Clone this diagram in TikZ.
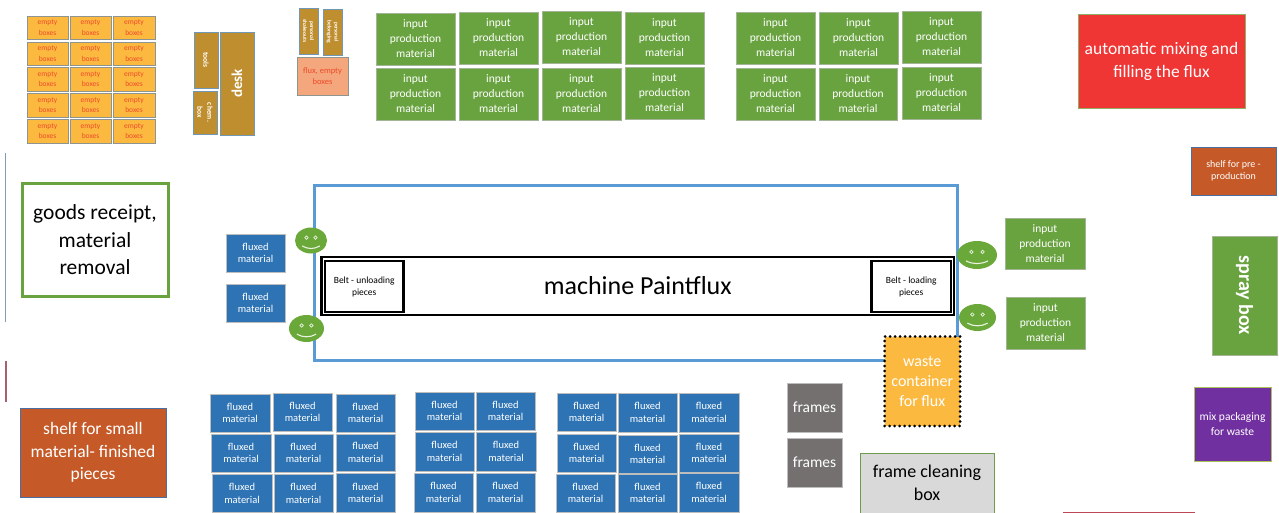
\documentclass[tikz,border=0pt]{standalone}
\usepackage{fontspec}
\setmainfont{Carlito}
\usetikzlibrary{shapes.geometric}
\definecolor{gFill}{HTML}{69A340}
\definecolor{gLine}{HTML}{A3B596}
\definecolor{bFill}{HTML}{2E74B5}
\definecolor{bLine}{HTML}{BDBDBD}
\definecolor{oFill}{HTML}{FCB940}
\definecolor{oLine}{HTML}{8E9490}
\definecolor{oText}{HTML}{EE4B2B}
\definecolor{tan1}{HTML}{BE8E2F}
\definecolor{tanLine}{HTML}{6F97B8}
\definecolor{salmon}{HTML}{F4A77C}
\definecolor{redF}{HTML}{EF3634}
\definecolor{redL}{HTML}{8FAE66}
\definecolor{rust}{HTML}{C55A28}
\definecolor{rustL}{HTML}{4A6FA5}
\definecolor{purp}{HTML}{7030A0}
\definecolor{purpL}{HTML}{A9C25A}
\definecolor{greyF}{HTML}{757070}
\definecolor{lgrey}{HTML}{D9D9D9}
\definecolor{frameB}{HTML}{5B9BD5}
\definecolor{smileG}{HTML}{6AA83A}
\definecolor{ruleA}{HTML}{7F9DB8}
\definecolor{ruleB}{HTML}{A8606E}
\newcommand{\fs}[2]{\fontsize{#1}{#2}\selectfont}
\newcommand{\bx}[7]{%
  \pgfmathsetmacro\myw{#4-#2}\pgfmathsetmacro\myh{#5-#3}%
  \pgfmathsetmacro\mycx{(#4+#2)/2}\pgfmathsetmacro\mycy{(#5+#3)/2}%
  \node[boxbase,#6,minimum width=\myw pt,minimum height=\myh pt] (#1) at (\mycx,\mycy) {#7};}
\newcommand{\rbx}[8]{%
  \pgfmathsetmacro\myw{#4-#2}\pgfmathsetmacro\myh{#5-#3}%
  \pgfmathsetmacro\mycx{(#4+#2)/2}\pgfmathsetmacro\mycy{(#5+#3)/2}%
  \node[boxbase,#6,rotate=#7,minimum width=\myh pt,minimum height=\myw pt] (#1) at (\mycx,\mycy) {#8};}
\newcommand{\smiley}[5]{%
  \node[smileface,minimum width=#4*2pt,minimum height=#5*2pt] (#1) at (#2,#3) {};
  \begin{scope}[shift={(#2,#3)}]
    \draw[smilepart] (-#4*0.28,-#5*0.22) circle (1.7);
    \draw[smilepart] (#4*0.28,-#5*0.22) circle (1.7);
    \draw[smilepart,line width=1.1pt] (-#4*0.55,#5*0.42) .. controls (-#4*0.2,#5*0.68) and (#4*0.2,#5*0.68) .. (#4*0.55,#5*0.42);
  \end{scope}}
\tikzset{
  boxbase/.style={draw,rectangle,inner sep=0pt,outer sep=0pt,align=center,line width=0.9pt},
  emptybox/.style={fill=oFill,draw=oLine,text=oText,font=\fs{7.5}{10.5}},
  toolbox/.style={fill=tan1,draw=tanLine,text=white},
  inbox/.style={fill=gFill,draw=gLine,text=white,font=\fs{11.5}{15}},
  fluxbox/.style={fill=bFill,draw=bLine,text=white,font=\fs{10.5}{12.3}},
  rustbox/.style={fill=rust,draw=rustL,text=white},
  greybox/.style={fill=greyF,draw=bLine,text=white,font=\fs{15.5}{20}},
  smileface/.style={ellipse,fill=smileG,draw=none,inner sep=0pt,outer sep=0pt},
  smilepart/.style={draw=white!85!smileG,line width=0.7pt},
}
\begin{document}
\begin{tikzpicture}[x=1pt,y=-1pt]
\useasboundingbox[fill=white] (0,0) rectangle (1279,513);
% left rules
\fill[fill=ruleA] (4.6,153) rectangle (6.2,322);
\fill[fill=ruleB] (4.6,361) rectangle (6.6,402);
% empty boxes
\foreach \c/\xa/\xb in {1/27/68,2/70/111,3/113/155}
  \foreach \r/\ya/\yb in {1/16/39,2/42/65,3/67/91,4/93/117,5/119/143}
    {\bx{e\r\c}{\xa}{\ya}{\xb}{\yb}{emptybox}{empty\\boxes}}
% desk group
\rbx{tools}{194}{32}{218}{88}{toolbox,font=\bfseries\fs{7.5}{10}}{-90}{tools}
\rbx{chem}{193}{91}{217}{134}{toolbox,font=\bfseries\fs{7.5}{10}}{-90}{chem.\\box}
\rbx{desk}{220}{32}{254}{135}{toolbox,font=\bfseries\fs{15}{18}}{90}{desk}
\rbx{sa}{299}{8}{318}{54}{toolbox,font=\bfseries\fs{5.5}{7}}{-90}{personal\\shakeouts}
\rbx{sb}{323}{9}{342}{55}{toolbox,font=\bfseries\fs{5.5}{7}}{-90}{personal\\belonging}
\bx{fluxempty}{297}{57}{348}{95}{fill=salmon,draw=oLine,text=oText,font=\fs{8.5}{11.5}}{flux, empty\\boxes}
% input material grid, left block
\bx{ia1}{376}{13}{455}{65}{inbox}{input\\production\\material}
\bx{ia2}{459}{12}{538}{64}{inbox}{input\\production\\material}
\bx{ia3}{542}{11}{621}{63}{inbox}{input\\production\\material}
\bx{ia4}{625}{12}{704}{64}{inbox}{input\\production\\material}
\bx{ib1}{376}{68}{455}{120}{inbox}{input\\production\\material}
\bx{ib2}{459}{68}{538}{120}{inbox}{input\\production\\material}
\bx{ib3}{542}{68}{621}{120}{inbox}{input\\production\\material}
\bx{ib4}{625}{67}{704}{119}{inbox}{input\\production\\material}
% input material grid, right block
\bx{ic1}{736}{12}{815}{64}{inbox}{input\\production\\material}
\bx{ic2}{819}{12}{898}{64}{inbox}{input\\production\\material}
\bx{ic3}{902}{11}{981}{63}{inbox}{input\\production\\material}
\bx{id1}{736}{68}{815}{120}{inbox}{input\\production\\material}
\bx{id2}{819}{68}{897}{120}{inbox}{input\\production\\material}
\bx{id3}{902}{67}{981}{119}{inbox}{input\\production\\material}
% top right
\bx{mix}{1078}{14}{1245}{108}{fill=redF,draw=redL,text=white,font=\fs{17.5}{23}}{automatic mixing and\\filling the flux}
\bx{pre}{1191}{147}{1276}{195}{rustbox,font=\fs{10}{12}}{shelf for pre -\\production}
\rbx{spray}{1212}{236}{1277}{355}{fill=gFill,draw=gLine,text=white,font=\bfseries\fs{20}{24}}{-90}{spray box}
\bx{waste2}{1194}{387}{1271}{461}{fill=purp,draw=purpL,text=white,font=\fs{11.5}{15}}{mix packaging\\for waste}
\bx{strip}{1063}{512}{1194}{513.5}{fill=redF,draw=redF!70!rustL}{}
% left
\bx{goods}{22}{184}{168}{296}{fill=white,draw=gFill,line width=3pt,text=black,font=\fs{21.5}{27.5}}{goods receipt,\\material\\removal}
\bx{shelf}{20}{408}{166}{497}{rustbox,font=\fs{17.5}{22.5}}{shelf for small\\material- finished\\pieces}
% machine area
\bx{frame}{314.5}{186}{957}{360}{fill=white,draw=frameB,line width=3pt}{}
\bx{machine}{321.5}{257}{954}{315}{fill=white,draw=black,line width=2.5pt,text=black,font=\fs{26}{28}}{machine Paintflux}
\bx{beltu}{325}{261}{403.5}{312}{fill=white,draw=black,line width=2.5pt,text=black,font=\fs{9.5}{12}}{Belt - unloading\\pieces}
\bx{beltl}{871.5}{261}{951}{312}{fill=white,draw=black,line width=2.5pt,text=black,font=\fs{9.5}{12}}{Belt - loading\\pieces}
\smiley{s1}{311}{240.5}{16}{13}
\smiley{s2}{306.5}{328.5}{17.5}{13.5}
\smiley{s3}{977}{255}{20}{14}
\smiley{s4}{977.5}{317.5}{18.5}{13.5}
\bx{fl1}{226}{234}{285}{272}{fluxbox}{fluxed\\material}
\bx{fl2}{226}{284}{285}{322}{fluxbox}{fluxed\\material}
\bx{in1}{1005}{218}{1085}{269}{inbox}{input\\production\\material}
\bx{in2}{1006}{297}{1085}{349}{inbox}{input\\production\\material}
\bx{waste}{884.5}{336.5}{960}{426}{fill=oFill,draw=black,line width=3pt,line cap=round,dash pattern=on 0pt off 5pt,text=white,font=\fs{16}{20}}{waste\\container\\for flux}
% fluxed grid, left block
\bx{fa1}{210}{394}{270}{432}{fluxbox}{fluxed\\material}
\bx{fa2}{273}{393}{332}{431}{fluxbox}{fluxed\\material}
\bx{fa3}{336}{394}{395}{432}{fluxbox}{fluxed\\material}
\bx{fb1}{211}{434}{271}{472}{fluxbox}{fluxed\\material}
\bx{fb2}{274}{434}{333}{472}{fluxbox}{fluxed\\material}
\bx{fb3}{336}{434}{395}{471}{fluxbox}{fluxed\\material}
\bx{fc1}{212}{474}{272}{512.5}{fluxbox}{fluxed\\material}
\bx{fc2}{274}{474}{333}{512.5}{fluxbox}{fluxed\\material}
\bx{fc3}{336}{473}{395}{512.5}{fluxbox}{fluxed\\material}
% fluxed grid, middle block
\bx{ga1}{415}{392}{474}{430}{fluxbox}{fluxed\\material}
\bx{ga2}{476}{392}{535}{430}{fluxbox}{fluxed\\material}
\bx{gb1}{415}{432}{474}{471}{fluxbox}{fluxed\\material}
\bx{gb2}{476}{432}{536}{471}{fluxbox}{fluxed\\material}
\bx{gc1}{414}{473}{473}{512}{fluxbox}{fluxed\\material}
\bx{gc2}{476}{473}{535}{512}{fluxbox}{fluxed\\material}
% fluxed grid, right block
\bx{ha1}{557}{393}{616}{431}{fluxbox}{fluxed\\material}
\bx{ha2}{618}{393}{677}{432}{fluxbox}{fluxed\\material}
\bx{ha3}{679}{393}{739}{432}{fluxbox}{fluxed\\material}
\bx{hb1}{557}{434}{616}{472}{fluxbox}{fluxed\\material}
\bx{hb2}{618}{435}{677}{473}{fluxbox}{fluxed\\material}
\bx{hb3}{679}{434}{739}{472}{fluxbox}{fluxed\\material}
\bx{hc1}{556}{474}{615}{512}{fluxbox}{fluxed\\material}
\bx{hc2}{618}{474}{677}{512}{fluxbox}{fluxed\\material}
\bx{hc3}{679}{473}{739}{512}{fluxbox}{fluxed\\material}
% frames
\bx{fr1}{787}{383}{842}{432}{greybox}{frames}
\bx{fr2}{787}{438}{842}{487}{greybox}{frames}
\bx{clean}{860}{453}{994}{513}{fill=lgrey,draw=gFill!80!gray,text=black,font=\fs{18}{22.5}}{frame cleaning\\box}
\end{tikzpicture}
\end{document}
